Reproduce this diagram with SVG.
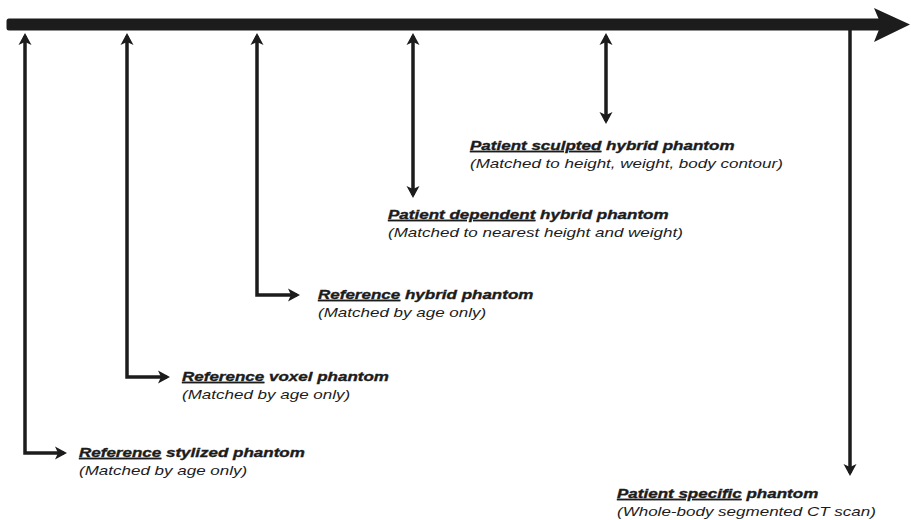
<svg xmlns="http://www.w3.org/2000/svg" width="911" height="520" viewBox="0 0 911 520">
  <style>
    .t { font-family: "Liberation Sans", Arial, sans-serif; font-size: 13px; fill: #1c1c1c; font-style: italic; }
    .b { font-weight: bold; stroke: #1c1c1c; stroke-width: 0.35; }
    .u { text-decoration: underline; }
    .ln { fill: none; stroke: #1c1c1c; stroke-width: 3.5; stroke-linejoin: miter; }
  </style>
  <defs>
    <marker id="ah" markerUnits="userSpaceOnUse" markerWidth="20" markerHeight="20" viewBox="-10 -10 20 20" refX="0" refY="0" orient="auto-start-reverse">
      <path d="M3,0 L-9,-6.5 L-6,0 L-9,6.5 Z" fill="#1c1c1c"/>
    </marker>
  </defs>
  <rect width="911" height="520" fill="#ffffff"/>

  <g id="timeline">
    <path d="M9,18.5 H882 V30.5 H9 Q6.5,30.5 6.5,28 V21 Q6.5,18.5 9,18.5 Z" fill="#1c1c1c"/>
    <path d="M874,8 L910,24.5 L874,42 L881,24.5 Z" fill="#1c1c1c"/>
  </g>

  <g id="connectors">
    <path class="ln" d="M25,36 V453 H64" marker-start="url(#ah)" marker-end="url(#ah)"/>
    <path class="ln" d="M127,36 V377 H167" marker-start="url(#ah)" marker-end="url(#ah)"/>
    <path class="ln" d="M257,36 V295 H297" marker-start="url(#ah)" marker-end="url(#ah)"/>
    <path class="ln" d="M413,36 V195" marker-start="url(#ah)" marker-end="url(#ah)"/>
    <path class="ln" d="M606,36 V121" marker-start="url(#ah)" marker-end="url(#ah)"/>
    <path class="ln" d="M850,30 V473" marker-end="url(#ah)"/>
  </g>

  <g id="ref-stylized" transform="translate(79,0) scale(1.31,1)">
    <text class="t b" x="0" y="457"><tspan class="u">Reference</tspan> stylized phantom</text>
    <text class="t" x="0" y="475">(Matched by age only)</text>
  </g>

  <g id="ref-voxel" transform="translate(182,0) scale(1.31,1)">
    <text class="t b" x="0" y="381"><tspan class="u">Reference</tspan> voxel phantom</text>
    <text class="t" x="0" y="399">(Matched by age only)</text>
  </g>

  <g id="ref-hybrid" transform="translate(318,0) scale(1.31,1)">
    <text class="t b" x="0" y="299"><tspan class="u">Reference</tspan> hybrid phantom</text>
    <text class="t" x="0" y="317">(Matched by age only)</text>
  </g>

  <g id="patient-dependent" transform="translate(388,0) scale(1.31,1)">
    <text class="t b" x="0" y="219"><tspan class="u">Patient dependent</tspan> hybrid phantom</text>
    <text class="t" x="0" y="237">(Matched to nearest height and weight)</text>
  </g>

  <g id="patient-sculpted" transform="translate(470,0) scale(1.31,1)">
    <text class="t b" x="0" y="150"><tspan class="u">Patient sculpted</tspan> hybrid phantom</text>
    <text class="t" x="0" y="168">(Matched to height, weight, body contour)</text>
  </g>

  <g id="patient-specific" transform="translate(617,0) scale(1.31,1)">
    <text class="t b" x="0" y="498"><tspan class="u">Patient specific</tspan> phantom</text>
    <text class="t" x="0" y="516">(Whole-body segmented CT scan)</text>
  </g>
</svg>
